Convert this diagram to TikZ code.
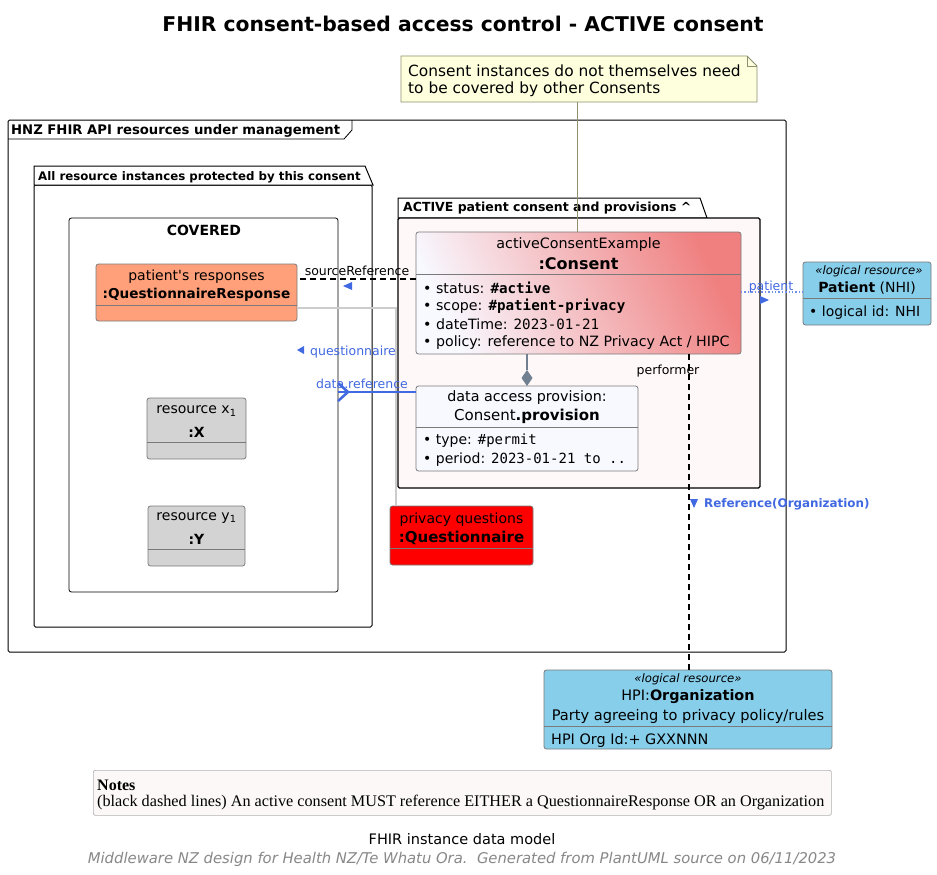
\documentclass[tikz,border=0pt]{standalone}
\usepackage{fontspec}
\setmainfont{DejaVu Sans}
\setmonofont{DejaVu Sans Mono}
\newfontfamily\notesfont{Liberation Serif}
\usetikzlibrary{calc}
\definecolor{salmonc}{HTML}{FFA07A}
\definecolor{lgray}{HTML}{D3D3D3}
\definecolor{connGray}{HTML}{CCCCCC}
\definecolor{skyb}{HTML}{87CEEB}
\definecolor{lcoral}{HTML}{F08080}
\definecolor{gwhite}{HTML}{F8F8FF}
\definecolor{royal}{HTML}{4169E1}
\definecolor{slate}{HTML}{708090}
\definecolor{noteyel}{HTML}{FEFFDD}
\definecolor{notebrd}{HTML}{8F8F70}
\definecolor{boxbrd}{HTML}{7A7A7A}
\definecolor{pinkbg}{HTML}{FFF8F8}
\definecolor{notesbg}{HTML}{FCF8F8}
\definecolor{footgray}{HTML}{888888}
\newcommand\fsz[1]{\fontsize{#1}{#1}\selectfont}
\tikzset{
  cbox/.style={draw=boxbrd, line width=0.8pt, rounded corners=2.5pt, anchor=north west, inner sep=0pt, outer sep=0pt},
  pkg/.style={draw=black, line width=1pt, rounded corners=1.5pt, anchor=north west, inner sep=0pt, outer sep=0pt},
  txt/.style={inner sep=0pt, yshift=-1pt, font=\fsz{14}},
  lbl/.style={inner sep=0pt, yshift=-1pt, font=\fsz{12.5}},
  divider/.style={draw=boxbrd, line width=0.8pt},
  dashconn/.style={draw=black, line width=1.8pt, dash pattern=on 6pt off 4pt},
}
\begin{document}
\begin{tikzpicture}[x=1pt,y=-1pt]
\useasboundingbox (0,0) rectangle (937,875);
\fill[white] (0,0) rectangle (937,875);

% title
\node[txt, font=\fsz{20.3}\bfseries] (title) at (463,23) {FHIR consent-based access control - ACTIVE consent};

% outer frame
\node[pkg, minimum width=778pt, minimum height=532pt] (hnz) at (8,120) {};
\draw[line width=0.8pt] (8,139) -- (344,139) -- (352,130) -- (352,120);
\node[txt, anchor=west, font=\fsz{13.2}\bfseries] (hnzlbl) at (11,130) {HNZ FHIR API resources under management};

% package: all resource instances
\node[pkg, minimum width=338pt, minimum height=442pt] (allpkg) at (34,185) {};
\draw[line width=1pt, fill=white] (34,185) -- (34,166) -- (365,166) -- (373,185) -- cycle;
\node[txt, anchor=west, font=\fsz{11.8}\bfseries] (alllbl) at (38,176) {All resource instances protected by this consent};

% COVERED rectangle
\node[pkg, line width=0.8pt, rounded corners=2.5pt, minimum width=269pt, minimum height=374pt] (covered) at (69,218) {};
\node[txt, font=\fsz{14}\bfseries] (covlbl) at (204,229) {COVERED};

% QuestionnaireResponse
\node[cbox, fill=salmonc, minimum width=201pt, minimum height=57pt] (qr) at (96,264) {};
\draw[divider] (96,305) -- (297,305);
\node[txt] (qrt1) at (196.5,276) {patient\textquotesingle s responses};
\node[txt, font=\fsz{13.6}\bfseries] (qrt2) at (196.5,294) {:QuestionnaireResponse};

% resource x
\node[cbox, fill=lgray, minimum width=99pt, minimum height=61pt] (rx) at (147,398) {};
\draw[divider] (147,442) -- (246,442);
\node[txt] (rxt1) at (196.5,410) {resource x\textsubscript{1}};
\node[txt, font=\fsz{14}\bfseries] (rxt2) at (196.5,431) {:X};

% resource y
\node[cbox, fill=lgray, minimum width=97pt, minimum height=60pt] (ry) at (148,506) {};
\draw[divider] (148,549) -- (245,549);
\node[txt] (ryt1) at (196.5,517) {resource y\textsubscript{1}};
\node[txt, font=\fsz{14}\bfseries] (ryt2) at (196.5,538) {:Y};

% ACTIVE package
\draw[line width=1pt, fill=white] (398,218) -- (398,198) -- (700,198) -- (707,218) -- cycle;
\node[pkg, fill=pinkbg, line width=1.3pt, minimum width=362pt, minimum height=270pt] (activepkg) at (398,218) {};
\node[txt, anchor=west, font=\fsz{12.5}\bfseries] (actlbl) at (403,207.5) {ACTIVE patient consent and provisions \textasciicircum};

% Consent
\node[cbox, left color=gwhite, right color=lcoral, shading angle=115, minimum width=325pt, minimum height=122pt] (consent) at (416,232) {};
\draw[divider] (416,274) -- (741,274);
\node[txt, font=\fsz{14.3}] (ct1) at (578.5,244) {activeConsentExample};
\node[txt, font=\fsz{16}\bfseries] (ct2) at (578.5,263) {:Consent};
\node[txt, anchor=west, font=\fsz{14.2}] (cf1) at (423,287) {\textbullet\ status: {\ttfamily\bfseries \#active}};
\node[txt, anchor=west, font=\fsz{14.2}] (cf2) at (423,305) {\textbullet\ scope: {\ttfamily\bfseries \#patient-privacy}};
\node[txt, anchor=west, font=\fsz{14.2}] (cf3) at (423,323) {\textbullet\ dateTime: {\ttfamily 2023-01-21}};
\node[txt, anchor=west, font=\fsz{14.2}] (cf4) at (423,342) {\textbullet\ policy: reference to NZ Privacy Act / HIPC};

% provision
\node[cbox, fill=gwhite, minimum width=222pt, minimum height=85pt] (prov) at (416,386) {};
\draw[divider] (416,427) -- (638,427);
\node[txt, font=\fsz{14.3}] (pt1) at (527,397) {data access provision:};
\node[txt, font=\fsz{15}] (pt2) at (527,415) {Consent\textbf{.provision}};
\node[txt, anchor=west, font=\fsz{14}] (pf1) at (423,440) {\textbullet\ type: {\ttfamily \#permit}};
\node[txt, anchor=west, font=\fsz{14}] (pf2) at (423,459) {\textbullet\ period: {\ttfamily 2023-01-21 to ..}};

% Questionnaire
\node[cbox, fill=red, minimum width=143pt, minimum height=59pt] (quest) at (390,506) {};
\draw[divider] (390,548) -- (533,548);
\node[txt] (qt1) at (461.5,519) {privacy questions};
\node[txt, font=\fsz{15}\bfseries] (qt2) at (461.5,537) {:Questionnaire};

% Patient
\node[cbox, fill=skyb, minimum width=128pt, minimum height=63pt] (patient) at (803,262) {};
\draw[divider] (803,298) -- (931,298);
\node[txt, font=\fsz{11.7}\itshape] (pat1) at (869,270) {«logical resource»};
\node[txt] (pat2) at (867,287) {\textbf{Patient} (NHI)};
\node[txt, anchor=west] (pat3) at (809,312) {\textbullet\ logical id: NHI};

% Organization
\node[cbox, fill=skyb, minimum width=288pt, minimum height=79pt] (org) at (544,670) {};
\draw[divider] (544,726) -- (832,726);
\node[txt, font=\fsz{11.7}\itshape] (org1) at (688,678) {«logical resource»};
\node[txt, font=\fsz{14.4}] (org2) at (688,696) {HPI:\textbf{Organization}};
\node[txt, font=\fsz{14.6}] (org3) at (688,715) {Party agreeing to privacy policy/rules};
\node[txt, anchor=west, font=\fsz{14.4}] (org4) at (551,740) {HPI Org Id:+ GXXNNN};

% note
\node[inner sep=0pt, anchor=north west, minimum width=356pt, minimum height=46pt] (note) at (401,56) {};
\draw[notebrd, fill=noteyel, line width=0.8pt] (401,56) -- (747,56) -- (757,66) -- (757,102) -- (401,102) -- cycle;
\draw[notebrd, line width=0.8pt] (747,56) -- (747,66) -- (757,66);
\node[txt, anchor=west, font=\fsz{15.4}] (nt1) at (408,70) {Consent instances do not themselves need};
\node[txt, anchor=west, font=\fsz{15.4}] (nt2) at (408,88) {to be covered by other Consents};
\draw[notebrd, line width=0.8pt] ($(note.south west)+(176,0)$) -- ($(consent.north west)+(161,0)$);

% sourceReference
\draw[dashconn] ($(consent.north west)+(0,47)$) -- ($(qr.north east)+(0,15)$);
\node[lbl] (srcl) at (357,270) {sourceReference};
\fill[royal] (343,286) -- (352,282) -- (352,290) -- cycle;

% questionnaire
\draw[connGray, line width=1.8pt] ($(qr.north east)+(0,44)$) -| ($(quest.north west)+(6,0)$);
\node[lbl, text=royal] (qlbl) at (353,351) {questionnaire};
\fill[royal] (297,350) -- (304,346) -- (304,354) -- cycle;

% data.reference
\draw[royal, line width=2.5pt] ($(prov.north west)+(0,6)$) -- ($(covered.north east)+(0,174)$);
\draw[royal, line width=2.5pt] (338,383) -- (348,392) -- (338,401);
\node[lbl, text=royal] (dlbl) at (362,383) {data.reference};

% patient
\draw[royal!75, line width=1.4pt, dotted] ($(consent.north east)+(0,60)$) -- ($(patient.north west)+(0,30)$);
\node[lbl, text=royal] (plbl) at (771,286) {patient};
\fill[royal] (769,300) -- (760,296) -- (760,304) -- cycle;

% performer
\draw[dashconn] ($(consent.south west)+(273,0)$) -- ($(org.north west)+(145,0)$);
\node[lbl] (perfl) at (668,370) {performer};
\fill[royal] (694,508) -- (690,499) -- (698,499) -- cycle;
\node[lbl, text=royal, anchor=west, font=\fsz{11.9}\bfseries] (refl) at (704,503) {Reference(Organization)};

% composition
\draw[slate, line width=2pt] ($(consent.south west)+(111,0)$) -- (527,370);
\fill[slate] (527,386) -- (521.5,378) -- (527,370) -- (532.5,378) -- cycle;

% Notes
\node[draw=gray!60, fill=notesbg, line width=0.7pt, rounded corners=2pt, anchor=north west, inner sep=0pt, minimum width=738pt, minimum height=45pt] (notes) at (93,770) {};
\node[txt, anchor=west, font=\notesfont\fsz{16}\bfseries] (notes1) at (97,784) {Notes};
\node[txt, anchor=west, font=\notesfont\fsz{16.2}] (notes2) at (97,802) {(black dashed lines) An active consent MUST reference EITHER a QuestionnaireResponse OR an Organization};

% footer
\node[txt, font=\fsz{14.5}] (foot1) at (462,838) {FHIR instance data model};
\node[txt, text=footgray, font=\fsz{14.8}\itshape] (foot2) at (462,858) {Middleware NZ design for Health NZ/Te Whatu Ora.\ \ Generated from PlantUML source on 06/11/2023};
\end{tikzpicture}
\end{document}
